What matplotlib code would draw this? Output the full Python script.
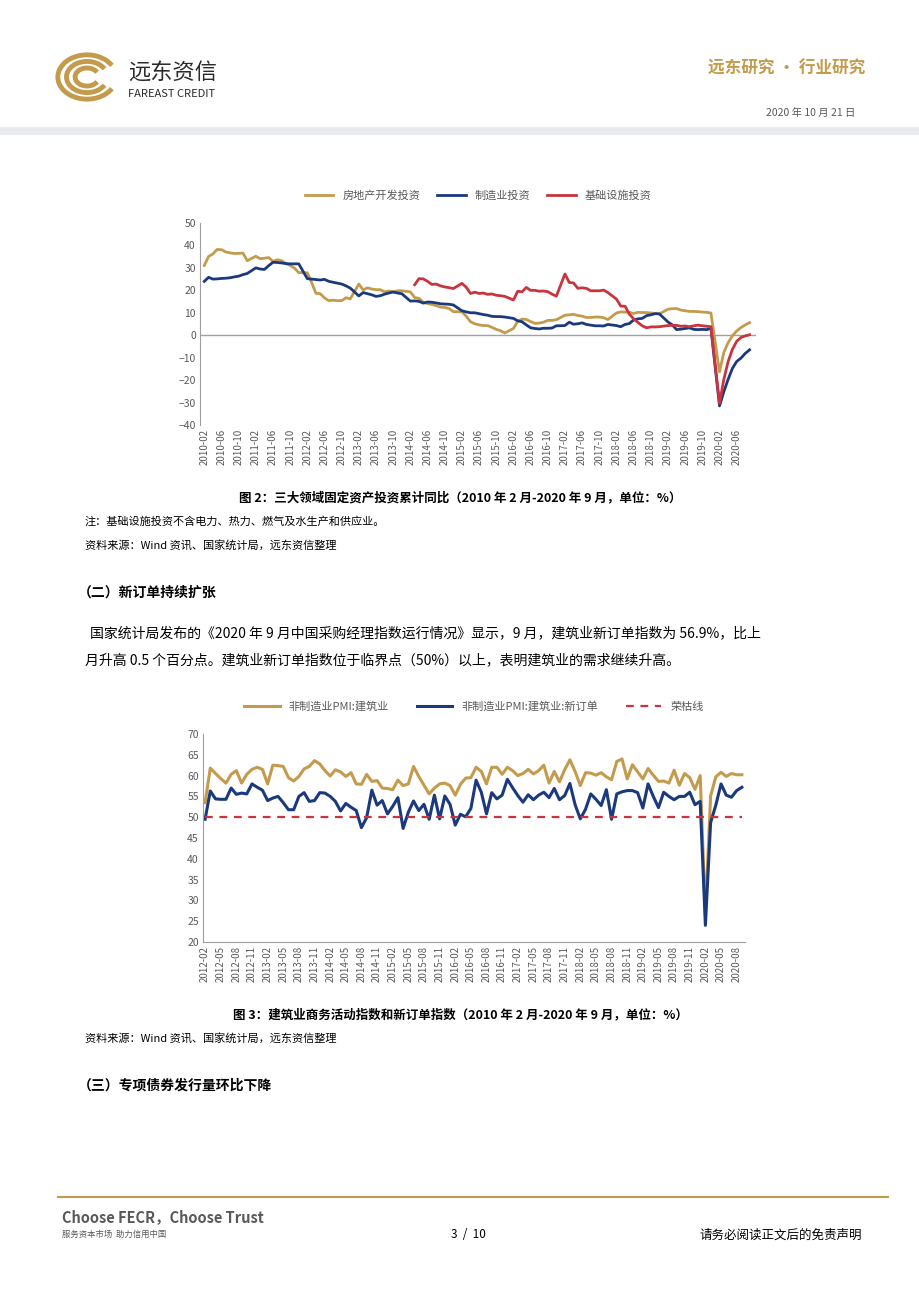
import numpy as np
import matplotlib
matplotlib.use('Agg')
from matplotlib import pyplot as plt
from matplotlib.patches import Arc, Rectangle

plt.rcParams['font.family'] = ['Noto Sans CJK SC', 'DejaVu Sans']

GOLD = '#C49B4C'
NAVY = '#1B3A7E'
RED = '#C9343D'
GRAY = '#595959'

# ---------------------------------------------------------------- data, chart 1
# cumulative yoy, Feb..Dec each year (no January values)
realestate = [
    [31.1, 35.1, 36.2, 38.2, 38.1, 37.1, 36.7, 36.4, 36.5, 36.6, 33.2],
    [35.2, 34.1, 34.3, 34.6, 32.9, 33.6, 33.2, 32.0, 31.1, 29.9, 27.9],
    [27.8, 23.5, 18.7, 18.5, 16.6, 15.4, 15.6, 15.4, 15.4, 16.7, 16.2],
    [22.8, 20.2, 21.1, 20.6, 20.3, 20.3, 19.3, 19.7, 19.2, 19.8, 19.8],
    [19.3, 16.8, 16.4, 14.7, 14.1, 13.7, 13.2, 12.5, 12.4, 11.9, 10.5],
    [10.4, 8.5, 6.0, 5.1, 4.6, 4.3, 4.3, 3.5, 2.6, 2.0, 1.0],
    [3.0, 6.2, 7.2, 7.0, 6.1, 5.3, 5.4, 5.8, 6.6, 6.6, 6.9],
    [8.9, 9.1, 9.3, 8.8, 8.5, 7.9, 7.9, 8.1, 8.1, 7.8, 7.0],
    [9.9, 10.4, 10.3, 10.2, 9.7, 10.2, 10.1, 10.1, 9.9, 9.7, 9.5],
    [11.6, 11.8, 11.9, 11.2, 10.9, 10.6, 10.6, 10.5, 10.3, 10.2, 9.9],
    [-16.3, -7.7, -3.3, -0.3, 1.9, 3.4, 4.6, 5.6],
]
manufacturing = [
    [24.0, 25.8, 25.0, 25.1, 25.3, 25.4, 25.6, 26.0, 26.3, 27.0, 27.5],
    [30.0, 29.5, 29.3, 31.0, 32.5, 32.4, 32.2, 31.9, 31.8, 31.8, 31.8],
    [25.2, 25.0, 24.8, 24.6, 24.9, 24.0, 23.6, 23.2, 22.8, 22.0, 21.0],
    [17.5, 19.0, 18.5, 18.0, 17.3, 17.6, 18.3, 18.8, 19.3, 18.8, 18.5],
    [15.2, 15.3, 15.1, 14.3, 14.8, 14.7, 14.4, 14.0, 13.9, 13.8, 13.5],
    [10.9, 10.4, 10.0, 10.0, 9.6, 9.2, 8.9, 8.4, 8.3, 8.3, 8.1],
    [7.5, 6.4, 6.0, 4.6, 3.3, 3.0, 2.8, 3.1, 3.1, 3.2, 4.2],
    [4.3, 5.8, 4.9, 5.1, 5.5, 4.8, 4.5, 4.2, 4.2, 4.1, 4.8],
    [4.3, 3.8, 4.8, 5.2, 6.8, 7.3, 7.5, 8.7, 9.1, 9.6, 9.5],
    [5.9, 4.6, 2.5, 2.7, 3.0, 3.3, 2.6, 2.5, 2.6, 2.5, 3.1],
    [-31.5, -25.2, -19.7, -14.8, -11.7, -10.2, -8.1, -6.5],
]
# infrastructure starts 2014-03
infrastructure = [
    None, None, None, None,
    [22.5, 25.2, 25.1, 24.0, 22.6, 22.8, 22.0, 21.5, 21.2, 20.8],
    [23.1, 21.4, 18.6, 19.2, 18.6, 18.8, 18.2, 18.4, 17.8, 17.6, 17.3],
    [15.7, 19.6, 19.3, 21.3, 20.0, 20.0, 19.6, 19.7, 19.4, 18.3, 17.4],
    [27.3, 23.5, 23.3, 20.9, 21.1, 20.9, 19.8, 19.8, 19.8, 20.1, 19.0],
    [16.1, 13.0, 12.9, 9.4, 7.3, 5.7, 4.2, 3.3, 3.7, 3.7, 3.8],
    [4.3, 4.4, 4.4, 4.0, 4.1, 3.8, 4.2, 4.5, 4.2, 4.0, 3.8],
    [-30.3, -19.7, -11.8, -6.3, -2.7, -1.0, -0.3, 0.2],
]
years1 = list(range(2010, 2021))

# ---------------------------------------------------------------- data, chart 2
# monthly 2012-02 .. 2020-09
pmi_construction = [
    53.5, 61.8, 60.5, 59.3, 58.2, 60.3, 61.2, 58.2, 60.3, 61.5, 62.0,
    61.5, 58.0, 62.5, 62.4, 62.2, 59.5, 58.7, 59.8, 61.6, 62.2, 63.6, 62.8,
    61.2, 59.9, 61.4, 60.9, 59.8, 60.7, 58.0, 57.9, 60.3, 58.6, 58.8, 57.0,
    56.9, 56.6, 58.9, 57.6, 58.0, 62.2, 59.8, 57.7, 55.6, 57.0, 58.0, 58.2,
    57.6, 55.3, 57.9, 59.4, 59.5, 62.0, 61.0, 58.0, 62.0, 62.0, 60.3, 62.0,
    61.2, 60.0, 60.5, 61.5, 60.4, 61.2, 62.5, 58.2, 61.0, 58.5, 61.4, 63.8,
    61.0, 57.6, 60.7, 60.6, 60.1, 60.7, 59.7, 59.0, 63.4, 64.0, 59.2, 62.6,
    60.9, 59.2, 61.7, 60.1, 58.6, 58.7, 58.2, 61.3, 57.7, 60.5, 59.5, 56.7,
    60.0, 26.6, 55.1, 59.7, 60.8, 59.8, 60.5, 60.2, 60.2,
]
pmi_new_orders = [
    49.5, 56.3, 54.4, 54.3, 54.3, 57.0, 55.5, 55.8, 55.6, 58.0, 57.2,
    56.5, 54.0, 54.6, 55.0, 53.5, 51.8, 51.8, 55.0, 55.9, 53.8, 54.0, 55.9,
    55.8, 55.0, 53.8, 51.5, 53.3, 52.4, 51.6, 47.5, 49.9, 56.5, 52.9, 54.0,
    50.8, 52.6, 54.7, 47.3, 51.2, 53.9, 51.6, 53.1, 49.5, 55.3, 49.6, 55.1,
    53.1, 48.1, 50.7, 50.1, 52.1, 58.9, 56.0, 50.8, 55.9, 54.4, 55.3, 59.1,
    57.1, 55.2, 53.6, 55.4, 54.2, 55.3, 56.0, 54.7, 56.9, 54.2, 55.2, 58.1,
    53.0, 49.6, 51.9, 55.6, 54.3, 52.8, 56.6, 49.5, 55.6, 56.1, 56.4, 56.4,
    55.9, 52.2, 58.0, 55.0, 52.3, 56.0, 55.0, 54.2, 55.0, 55.0, 56.0, 53.0,
    53.8, 24.0, 48.7, 52.9, 58.0, 55.3, 54.8, 56.4, 57.2,
]
boom_bust = 50.0

W, H = 920, 1302
fig = plt.figure(figsize=(W / 100, H / 100), dpi=100)

# page canvas in pixel coordinates
page = fig.add_axes([0, 0, 1, 1])
page.set_xlim(0, W)
page.set_ylim(H, 0)
page.axis('off')

def ax_rect(x0, x1, ytop, ybot):
    return [x0 / W, 1 - ybot / H, (x1 - x0) / W, (ybot - ytop) / H]

##########################################################################################
# header
for r in (27, 19, 11):
    page.add_patch(Arc((87, 77), 2 * r * 1.08, 2 * r * 0.82, theta1=25, theta2=335,
                       color=GOLD, lw=3.5))
page.text(128, 72, '远东资信', fontsize=16, color='#2b2b2b', va='center')
page.text(128, 94, 'FAREAST CREDIT', fontsize=8, color='#2b2b2b', va='center')
page.text(865, 69, '远东研究 • 行业研究', fontsize=12, color=GOLD, va='center', ha='right',
          fontweight='bold')
page.text(855, 113, '2020 年 10 月 21 日', fontsize=7.5, color=GRAY, va='center', ha='right')
page.add_patch(Rectangle((0, 127), W, 8, color='#e9ebee', lw=0))

##########################################################################################
# chart 1
ax1 = fig.add_axes(ax_rect(200, 756, 223, 425))

def build(series, years):
    xs, ys = [], []
    for y, vals in zip(years, series):
        if vals is None:
            continue
        m0 = 2 if len(vals) != 10 else 3
        for k, v in enumerate(vals):
            xs.append((y - 2010) * 12 + m0 + k - 2)
            ys.append(v)
    return xs, ys

for data, col, lab in [(realestate, GOLD, '房地产开发投资'),
                       (manufacturing, NAVY, '制造业投资'),
                       (infrastructure, RED, '基础设施投资')]:
    xs, ys = build(data, years1)
    ax1.plot(xs, ys, color=col, lw=2.0, label=lab)
ax1.axhline(0, color='#a0a0a0', lw=1.0, zorder=0)
ax1.set_xlim(-1, 128.5)
ax1.set_ylim(-40, 50)
ax1.set_yticks(np.arange(-40, 51, 10))
ticks1 = np.arange(0, 128, 4)
ax1.set_xticks(ticks1)
ax1.set_xticklabels([f'{2010 + (t + 1) // 12}-{(t + 1) % 12 + 1:02d}' for t in ticks1],
                    rotation=90)
ax1.legend(loc='lower center', bbox_to_anchor=(0.5, 1.06), ncol=3, frameon=False,
           fontsize=8, handlelength=2.6, columnspacing=1.5, labelcolor=GRAY)

##########################################################################################
# chart 2
ax2 = fig.add_axes(ax_rect(203, 745, 734, 942))
x2 = np.arange(len(pmi_construction))
ax2.plot(x2, pmi_construction, color=GOLD, lw=2.2, label='非制造业PMI:建筑业')
ax2.plot(x2, pmi_new_orders, color=NAVY, lw=2.2, label='非制造业PMI:建筑业:新订单')
ax2.plot(x2, [boom_bust] * len(x2), color=RED, lw=1.6, ls=(0, (3.5, 3)), label='荣枯线')
ax2.set_xlim(-0.4, 103.6)
ax2.set_ylim(20, 70)
ax2.set_yticks(np.arange(20, 71, 5))
ticks2 = np.arange(0, 104, 3)
ax2.set_xticks(ticks2)
ax2.set_xticklabels([f'{2012 + (t + 1) // 12}-{(t + 1) % 12 + 1:02d}' for t in ticks2],
                    rotation=90)
ax2.legend(loc='lower center', bbox_to_anchor=(0.5, 1.06), ncol=3, frameon=False,
           fontsize=8, handlelength=3.2, columnspacing=2.5, labelcolor=GRAY)

for ax in (ax1, ax2):
    for s in ('top', 'right'):
        ax.spines[s].set_visible(False)
    ax.spines['left'].set_color('#a0a0a0')
    ax.tick_params(length=0, labelsize=7.5, labelcolor=GRAY, pad=3)
    ax.tick_params(axis='x', labelsize=7)
    ax.set_facecolor('none')
ax1.spines['bottom'].set_visible(False)
ax2.spines['bottom'].set_color('#a0a0a0')

##########################################################################################
# body text
fs = 10
page.text(460, 498, '图 2：三大领域固定资产投资累计同比（2010 年 2 月-2020 年 9 月，单位：%）',
          fontsize=9, ha='center', va='center', fontweight='bold')
page.text(85, 521, '注：基础设施投资不含电力、热力、燃气及水生产和供应业。', fontsize=8, va='center')
page.text(85, 545, '资料来源：Wind 资讯、国家统计局，远东资信整理', fontsize=8, va='center')
page.text(78, 593, '（二）新订单持续扩张', fontsize=fs, va='center', fontweight='bold')
page.text(90, 633, '国家统计局发布的《2020 年 9 月中国采购经理指数运行情况》显示，9 月，'
          '建筑业新订单指数为 56.9%，比上', fontsize=fs, va='center')
page.text(85, 660, '月升高 0.5 个百分点。建筑业新订单指数位于临界点（50%）以上，'
          '表明建筑业的需求继续升高。', fontsize=fs, va='center')
page.text(460, 1015, '图 3：建筑业商务活动指数和新订单指数（2010 年 2 月-2020 年 9 月，单位：%）',
          fontsize=9, ha='center', va='center', fontweight='bold')
page.text(85, 1038, '资料来源：Wind 资讯、国家统计局，远东资信整理', fontsize=8, va='center')
page.text(78, 1085, '（三）专项债券发行量环比下降', fontsize=fs, va='center', fontweight='bold')

# footer
page.plot([58, 888], [1197, 1197], color=GOLD, lw=1.5)
page.text(62, 1217, 'Choose FECR，Choose Trust', fontsize=10.5, color=GRAY, va='center',
          fontweight='bold')
page.text(62, 1234, '服务资本市场  助力信用中国', fontsize=6, color=GRAY, va='center',
          fontstyle='italic')
page.text(468, 1235, '3  /  10', fontsize=8.5, va='center', ha='center')
page.text(862, 1235, '请务必阅读正文后的免责声明', fontsize=9, va='center', ha='right')

fig.savefig('out.png', dpi=100)
